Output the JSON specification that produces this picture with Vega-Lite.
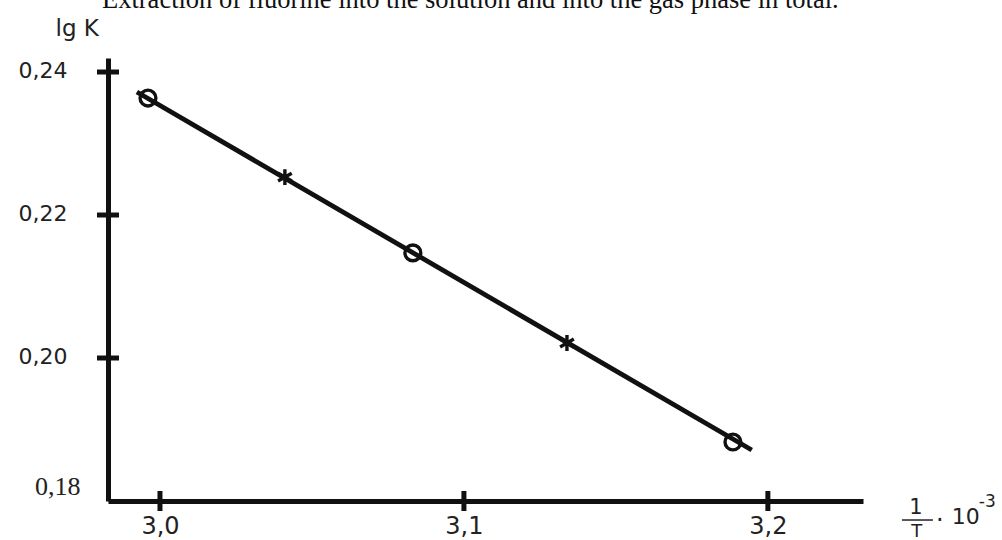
{
  "$schema": "https://vega.github.io/schema/vega-lite/v6.json",
  "width": 755,
  "height": 443,
  "autosize": "none",
  "padding": {"left": 108, "top": 58, "right": 139, "bottom": 39},
  "background": "white",
  "title": {
    "text": "Extraction of fluorine into the solution and into the gas phase in total.",
    "font": "Liberation Serif",
    "fontSize": 26.5,
    "fontWeight": "normal",
    "color": "#111",
    "anchor": "start",
    "frame": "group",
    "baseline": "bottom",
    "dx": -6,
    "offset": 0,
    "dy": 23
  },
  "config": {"view": {"stroke": null}},
  "datasets": {
    "fit": [
      {"x": 2.9924, "y": 0.2372},
      {"x": 3.1947, "y": 0.18713}
    ],
    "pts": [
      {"x": 2.99605, "y": 0.23636, "marker": "circle"},
      {"x": 3.0411, "y": 0.2253, "marker": "star"},
      {"x": 3.0832, "y": 0.2147, "marker": "circle"},
      {"x": 3.1339, "y": 0.2021, "marker": "star"},
      {"x": 3.1885, "y": 0.18825, "marker": "circle"}
    ],
    "yt": [{"v": 0.24}, {"v": 0.22}, {"v": 0.2}],
    "xt": [{"v": 3.0}, {"v": 3.1}, {"v": 3.2}],
    "one": [{"k": 1}]
  },
  "layer": [
    {
      "data": {"name": "fit"},
      "mark": {"type": "line", "color": "#111", "strokeWidth": 4.8},
      "encoding": {
        "x": {
          "field": "x",
          "type": "quantitative",
          "scale": {"domain": [2.9829, 3.2313], "nice": false, "zero": false},
          "axis": {
            "values": [3.0, 3.1, 3.2],
            "labelExpr": "replace(format(datum.value, '.1f'), '.', ',')",
            "title": null,
            "grid": false,
            "ticks": false,
            "domainColor": "#111",
            "domainWidth": 5,
            "labelFont": "DejaVu Sans",
            "labelFontSize": 24,
            "labelColor": "#222",
            "labelPadding": 13
          }
        },
        "y": {
          "field": "y",
          "type": "quantitative",
          "scale": {"domain": [0.18, 0.24196], "nice": false, "zero": false},
          "axis": {
            "values": [0.18, 0.2, 0.22, 0.24],
            "labelExpr": "replace(format(datum.value, '.2f'), '.', ',')",
            "grid": false,
            "ticks": false,
            "domainColor": "#111",
            "domainWidth": 5,
            "labelColor": "#222",
            "labelFont": {"condition": {"test": "datum.value < 0.19", "value": "Liberation Serif"}, "value": "DejaVu Sans"},
            "labelFontSize": {"condition": {"test": "datum.value < 0.19", "value": 26}, "value": 22},
            "labelOffset": {"condition": {"test": "datum.value < 0.19", "value": -15}, "value": -2},
            "labelPadding": {"condition": {"test": "datum.value < 0.19", "value": 28}, "value": 41},
            "title": "lg K",
            "titleAngle": 0,
            "titleX": -53,
            "titleY": -23,
            "titleAlign": "left",
            "titleBaseline": "alphabetic",
            "titleFont": "DejaVu Sans",
            "titleFontSize": 23,
            "titleFontWeight": "normal",
            "titleColor": "#222"
          }
        }
      }
    },
    {
      "data": {"name": "pts"},
      "mark": {"type": "point", "filled": false, "stroke": "#111", "strokeWidth": 3.4, "size": 250, "opacity": 1},
      "encoding": {
        "x": {"field": "x", "type": "quantitative"},
        "y": {"field": "y", "type": "quantitative"},
        "shape": {
          "field": "marker",
          "type": "nominal",
          "scale": {"domain": ["circle", "star"], "range": ["circle", "M0,-1L0,1M-0.866,-0.5L0.866,0.5M-0.866,0.5L0.866,-0.5"]},
          "legend": null
        }
      }
    },
    {
      "data": {"name": "yt"},
      "mark": {"type": "tick", "orient": "horizontal", "color": "#111", "size": 22, "thickness": 5, "opacity": 1},
      "encoding": {
        "y": {"field": "v", "type": "quantitative"},
        "x": {"datum": 2.9829, "type": "quantitative"}
      }
    },
    {
      "data": {"name": "xt"},
      "mark": {"type": "tick", "orient": "vertical", "color": "#111", "size": 20, "thickness": 5, "opacity": 1},
      "encoding": {
        "x": {"field": "v", "type": "quantitative"},
        "y": {"datum": 0.18, "type": "quantitative"}
      }
    },
    {
      "data": {"name": "one"},
      "mark": {"type": "text", "text": "1", "font": "DejaVu Sans", "fontSize": 21, "color": "#222", "align": "center", "baseline": "middle", "clip": false},
      "encoding": {"x": {"datum": 3.2487, "type": "quantitative"}, "y": {"datum": 0.17902, "type": "quantitative"}}
    },
    {
      "data": {"name": "one"},
      "mark": {"type": "rule", "color": "#222", "strokeWidth": 1.5, "clip": false},
      "encoding": {"x": {"datum": 3.2441, "type": "quantitative"}, "x2": {"datum": 3.2543}, "y": {"datum": 0.17734, "type": "quantitative"}}
    },
    {
      "data": {"name": "one"},
      "mark": {"type": "text", "text": "T", "font": "DejaVu Sans", "fontSize": 18, "color": "#222", "align": "center", "baseline": "middle", "clip": false},
      "encoding": {"x": {"datum": 3.249, "type": "quantitative"}, "y": {"datum": 0.1757, "type": "quantitative"}}
    },
    {
      "data": {"name": "one"},
      "mark": {"type": "text", "text": "·", "font": "DejaVu Sans", "fontSize": 24, "color": "#222", "align": "center", "baseline": "middle", "clip": false},
      "encoding": {"x": {"datum": 3.2566, "type": "quantitative"}, "y": {"datum": 0.1772, "type": "quantitative"}}
    },
    {
      "data": {"name": "one"},
      "mark": {"type": "text", "text": "10", "font": "DejaVu Sans", "fontSize": 22, "color": "#222", "align": "left", "baseline": "middle", "clip": false},
      "encoding": {"x": {"datum": 3.2605, "type": "quantitative"}, "y": {"datum": 0.17776, "type": "quantitative"}}
    },
    {
      "data": {"name": "one"},
      "mark": {"type": "text", "text": "-3", "font": "DejaVu Sans", "fontSize": 17, "color": "#222", "align": "left", "baseline": "middle", "clip": false},
      "encoding": {"x": {"datum": 3.2694, "type": "quantitative"}, "y": {"datum": 0.17986, "type": "quantitative"}}
    }
  ]
}
